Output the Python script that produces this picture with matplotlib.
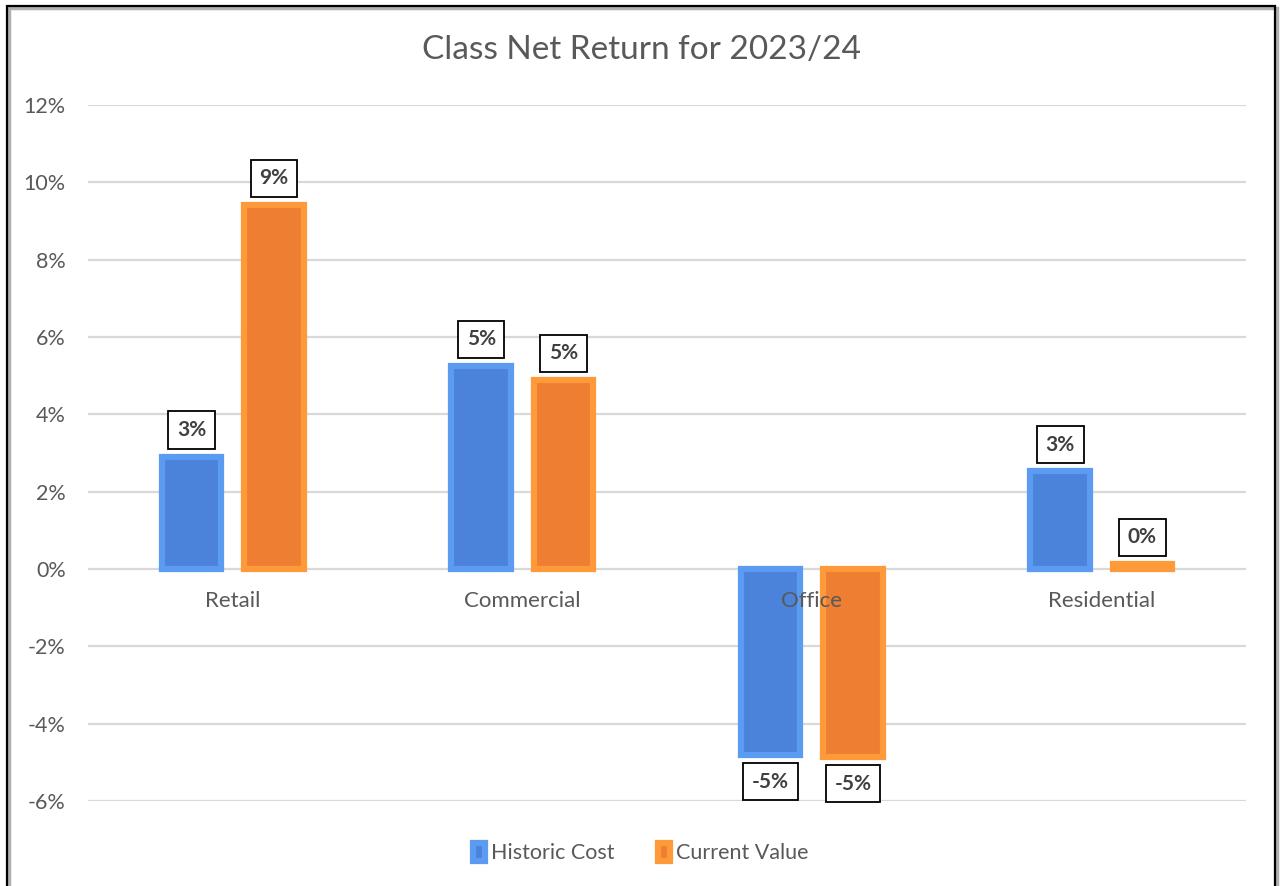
import numpy as np
import matplotlib
matplotlib.use("Agg")
import matplotlib.pyplot as plt
from matplotlib.patches import Rectangle

# values (fractions)
categories = ["Retail", "Commercial", "Office", "Residential"]
historic_cost = [0.029, 0.0525, -0.0481, 0.0253]
current_value = [0.0941, 0.0489, -0.0486, 0.0013]
series_names = ["Historic Cost", "Current Value"]
yticks = [-0.06, -0.04, -0.02, 0.0, 0.02, 0.04, 0.06, 0.08, 0.10, 0.12]

outer_cols = ["#5B9BF2", "#FF9A3A"]
inner_cols = ["#4B82DA", "#EE7E32"]

plt.rcParams["font.family"] = ["Lato", "DejaVu Sans"]

fig = plt.figure(figsize=(12.82, 8.86), dpi=100)
ax = fig.add_axes([88 / 1282, 1 - 801 / 886, (1246 - 88) / 1282, (801 - 105) / 886])

x = np.arange(len(categories))
w = 0.205
off = 0.142
handles = []
for i, vals in enumerate([historic_cost, current_value]):
    xs = x + (off if i else -off)
    b = ax.bar(xs, vals, w, color=inner_cols[i], edgecolor=outer_cols[i],
               linewidth=4.5, zorder=3, label=series_names[i])
    handles.append(b)
    for xi, v in zip(xs, vals):
        up = v >= 0
        ax.annotate("{:.0%}".format(v), (xi, v), xytext=(0, 12 if up else -12),
                    textcoords="offset points", ha="center",
                    va="bottom" if up else "top",
                    fontsize=15, fontweight="bold", color="#404040",
                    bbox=dict(boxstyle="square,pad=0.42", fc="white",
                              ec="black", lw=1.3), zorder=5)

for xi, c in zip(x, categories):
    ax.annotate(c, (xi, 0), xytext=(0, -23), textcoords="offset points",
                ha="center", va="center", fontsize=16, color="#595959", zorder=6)

ax.set_xlim(-0.5, len(categories) - 0.5)
ax.set_ylim(-0.06, 0.12)
ax.set_yticks(yticks)
ax.set_yticklabels(["{:.0%}".format(t) for t in yticks])
ax.tick_params(axis="y", length=0, labelsize=15.5, labelcolor="#595959", pad=16)
ax.set_xticks([])
ax.grid(axis="y", color="#D9D9D9", linewidth=1.6, zorder=0)
for s in ax.spines.values():
    s.set_visible(False)

fig.text(0.5, 1 - 50 / 886, "Class Net Return for 2023/24", ha="center",
         va="center", fontsize=24, color="#595959")

fig.legend(handles=handles, loc="center", bbox_to_anchor=(0.5, 1 - 853 / 886),
           ncol=2, frameon=False, fontsize=15.5, handlelength=0.55,
           handleheight=0.9, handletextpad=0.3, columnspacing=2.0,
           labelcolor="#595959")

# chart frame with a little shadow
fig.patches.append(Rectangle((9 / 1282, -0.05), (1277 - 9) / 1282, 1.05 - 8 / 886,
                             transform=fig.transFigure, fill=False,
                             ec="#B0B0B0", lw=2.5, zorder=0))
fig.patches.append(Rectangle((7 / 1282, -0.05), (1275 - 7) / 1282, 1.05 - 6 / 886,
                             transform=fig.transFigure, fill=False,
                             ec="black", lw=1.6, zorder=1))

fig.savefig("out.png", dpi=100)
